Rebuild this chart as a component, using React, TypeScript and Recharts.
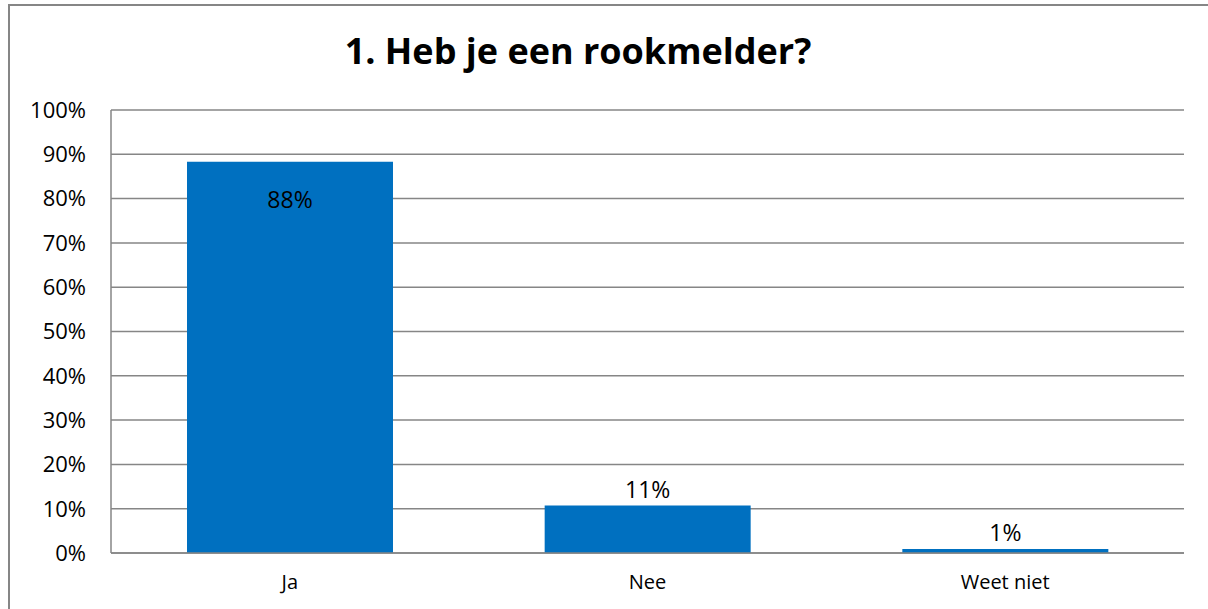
import React from 'react';
import { BarChart, Bar, XAxis, YAxis, CartesianGrid, LabelList } from 'recharts';

const categories = ['Ja', 'Nee', 'Weet niet'];
const shares = [0.883, 0.107, 0.009];
const yTicks = [0, 0.1, 0.2, 0.3, 0.4, 0.5, 0.6, 0.7, 0.8, 0.9, 1];

const chartData = categories.map((name, i) => ({ name, value: shares[i] }));

const FONT = '"Open Sans", "Liberation Sans", sans-serif';
const GRID = '#868686';
const BAR = '#0070C0';

const pct = (v: number) => `${Math.round(v * 100)}%`;

// Excel zet het label van de hoge balk binnenin, de rest erboven
const BarLabel = (props: any) => {
  const { x, y, width, value } = props;
  const inside = value > 0.5;
  return (
    <text
      x={x + width / 2}
      y={inside ? y + 37 : y - 17}
      textAnchor="middle"
      dominantBaseline="central"
      fontSize={23}
      fontFamily={FONT}
      fill="#000"
    >
      {pct(value)}
    </text>
  );
};

export default function App() {
  return (
    <div
      style={{
        position: 'fixed',
        left: 0,
        top: 0,
        width: 1208,
        height: 609,
        overflow: 'hidden',
        background: '#fff',
        fontFamily: FONT
      }}
    >
      <div
        style={{
          position: 'absolute',
          left: 8,
          top: 4,
          width: 1400,
          height: 800,
          borderLeft: `2px solid ${GRID}`,
          borderTop: `2px solid ${GRID}`
        }}
      />
      <div
        style={{
          position: 'absolute',
          left: 0,
          width: 1156,
          top: 28,
          textAlign: 'center',
          fontSize: 36,
          fontWeight: 700,
          lineHeight: '46px',
          color: '#000'
        }}
      >
        1. Heb je een rookmelder?
      </div>
      <div style={{ position: 'absolute', left: 0, top: 0 }}>
        <BarChart
          width={1208}
          height={609}
          data={chartData}
          margin={{ top: 110, right: 24, bottom: 0, left: 0 }}
        >
          <CartesianGrid vertical={false} stroke={GRID} strokeWidth={1.5} />
          <XAxis
            dataKey="name"
            height={56}
            tickLine={false}
            tickSize={0}
            tickMargin={22}
            axisLine={{ stroke: GRID, strokeWidth: 1.5 }}
            tick={{ fontSize: 20, fontFamily: FONT, fill: '#000' }}
          />
          <YAxis
            width={111}
            domain={[0, 1]}
            ticks={yTicks}
            tickFormatter={pct}
            interval={0}
            tickLine={false}
            tickSize={0}
            tickMargin={25}
            axisLine={{ stroke: GRID, strokeWidth: 1.5 }}
            tick={{ fontSize: 22, fontFamily: FONT, fill: '#000' }}
          />
          <Bar dataKey="value" fill={BAR} barSize={206} isAnimationActive={false}>
            <LabelList dataKey="value" content={BarLabel} />
          </Bar>
        </BarChart>
      </div>
    </div>
  );
}
